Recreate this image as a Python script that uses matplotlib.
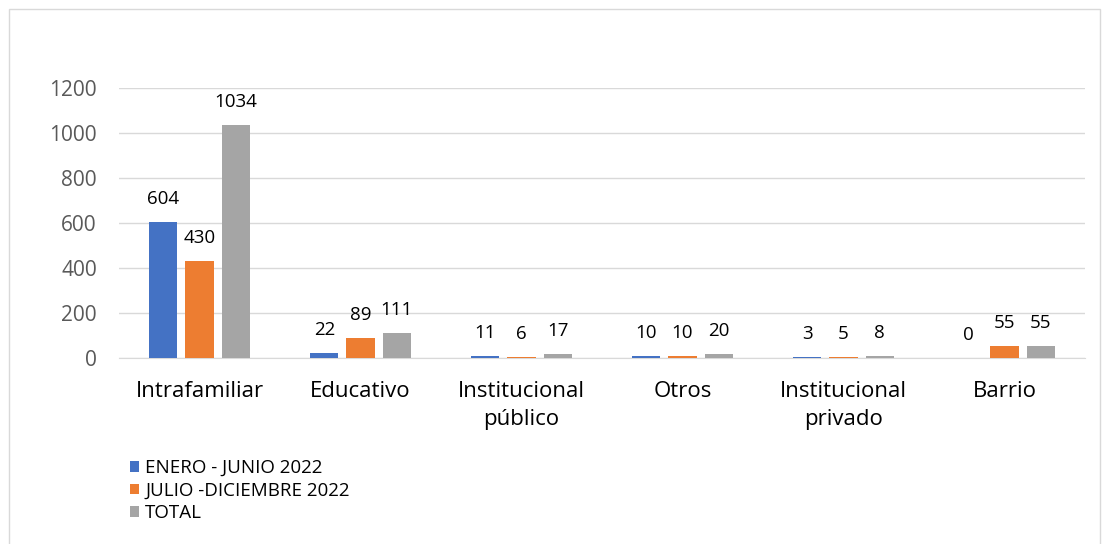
import matplotlib
matplotlib.use("Agg")
import matplotlib.pyplot as plt
import numpy as np
from matplotlib.patches import Rectangle

categories = ["Intrafamiliar", "Educativo", "Institucional\npúblico", "Otros", "Institucional\nprivado", "Barrio"]
series_names = ["ENERO - JUNIO 2022", "JULIO -DICIEMBRE 2022", "TOTAL"]
enero_junio = [604, 22, 11, 10, 3, 0]
julio_dic = [430, 89, 6, 10, 5, 55]
total = [1034, 111, 17, 20, 8, 55]
colors = ["#4472C4", "#ED7D31", "#A5A5A5"]
yticks = [0, 200, 400, 600, 800, 1000, 1200]

plt.rcParams['font.family'] = ['Open Sans', 'DejaVu Sans']

W, H = 1102, 544
fig = plt.figure(figsize=(W/100, H/100), dpi=100)
fig.patches.append(Rectangle((9/W, -0.01), (1100-9)/W, 1 - 9/H + 0.01, transform=fig.transFigure,
                             fill=False, edgecolor="#d9d9d9", linewidth=1.0))

ax = fig.add_axes([119/W, 1-358/H, (1085-119)/W, (358-88)/H])
x = np.arange(len(categories))
width = 0.174
step = 0.224
for i, (vals, c, name) in enumerate(zip([enero_junio, julio_dic, total], colors, series_names)):
    pos = x + (i-1)*step
    ax.bar(pos, vals, width, color=c, label=name, zorder=3)
    for p, v in zip(pos, vals):
        ax.annotate(str(v), (p, v), xytext=(0, 10), textcoords="offset points",
                    ha="center", va="bottom", fontsize=13.5, color="#000000")

ax.set_xlim(-0.5, len(categories)-0.5)
ax.set_ylim(0, 1200)
ax.set_yticks(yticks)
ax.set_yticklabels([str(t) for t in yticks], fontsize=15, color="#595959")
ax.set_xticks(x)
ax.set_xticklabels(categories, fontsize=16, color="#000000", linespacing=1.47)
ax.tick_params(axis='both', length=0)
ax.tick_params(axis='y', pad=16)
ax.tick_params(axis='x', pad=16.5)
ax.grid(axis='y', color="#d9d9d9", linewidth=1.0, zorder=0)
for s in ["top", "right", "left"]:
    ax.spines[s].set_visible(False)
ax.spines["bottom"].set_color("#d9d9d9")

leg = fig.legend(loc="upper left", bbox_to_anchor=(130/W, 1-459/H), frameon=False,
                 fontsize=13.5, handlelength=0.5, handleheight=0.5, handletextpad=0.3,
                 labelspacing=0.24, borderaxespad=0, borderpad=0)

fig.savefig("out.png", dpi=100)
